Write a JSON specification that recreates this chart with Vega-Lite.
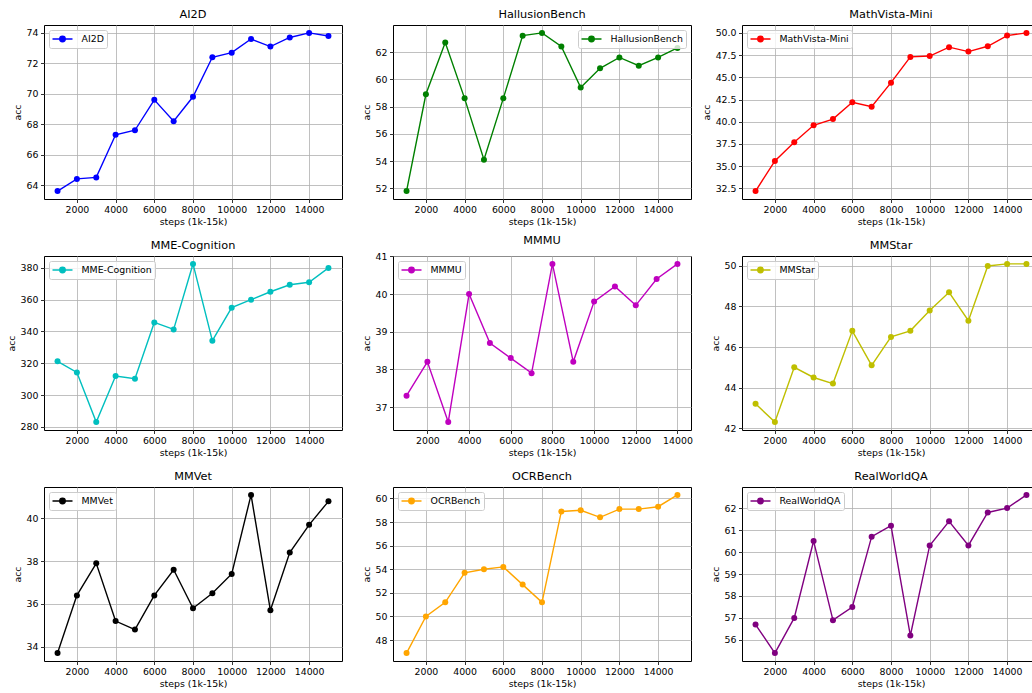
{
  "$schema": "https://vega.github.io/schema/vega-lite/v6.json",
  "padding": {"left": 5, "top": 8, "right": 0, "bottom": 0},
  "background": "white",
  "columns": 3,
  "spacing": {"row": 57, "column": 51},
  "bounds": "flush",
  "datasets": {
    "d": [
      {"bench": "AI2D", "step": 1000, "acc": 63.6}, {"bench": "AI2D", "step": 2000, "acc": 64.4}, {"bench": "AI2D", "step": 3000, "acc": 64.5}, {"bench": "AI2D", "step": 4000, "acc": 67.3}, {"bench": "AI2D", "step": 5000, "acc": 67.6}, {"bench": "AI2D", "step": 6000, "acc": 69.6}, {"bench": "AI2D", "step": 7000, "acc": 68.2}, {"bench": "AI2D", "step": 8000, "acc": 69.8}, {"bench": "AI2D", "step": 9000, "acc": 72.4}, {"bench": "AI2D", "step": 10000, "acc": 72.7}, {"bench": "AI2D", "step": 11000, "acc": 73.6}, {"bench": "AI2D", "step": 12000, "acc": 73.1}, {"bench": "AI2D", "step": 13000, "acc": 73.7}, {"bench": "AI2D", "step": 14000, "acc": 74.0}, {"bench": "AI2D", "step": 15000, "acc": 73.8},
      {"bench": "HallusionBench", "step": 1000, "acc": 51.8}, {"bench": "HallusionBench", "step": 2000, "acc": 58.9}, {"bench": "HallusionBench", "step": 3000, "acc": 62.7}, {"bench": "HallusionBench", "step": 4000, "acc": 58.6}, {"bench": "HallusionBench", "step": 5000, "acc": 54.1}, {"bench": "HallusionBench", "step": 6000, "acc": 58.6}, {"bench": "HallusionBench", "step": 7000, "acc": 63.2}, {"bench": "HallusionBench", "step": 8000, "acc": 63.4}, {"bench": "HallusionBench", "step": 9000, "acc": 62.4}, {"bench": "HallusionBench", "step": 10000, "acc": 59.4}, {"bench": "HallusionBench", "step": 11000, "acc": 60.8}, {"bench": "HallusionBench", "step": 12000, "acc": 61.6}, {"bench": "HallusionBench", "step": 13000, "acc": 61.0}, {"bench": "HallusionBench", "step": 14000, "acc": 61.6}, {"bench": "HallusionBench", "step": 15000, "acc": 62.3},
      {"bench": "MathVista-Mini", "step": 1000, "acc": 32.2}, {"bench": "MathVista-Mini", "step": 2000, "acc": 35.6}, {"bench": "MathVista-Mini", "step": 3000, "acc": 37.7}, {"bench": "MathVista-Mini", "step": 4000, "acc": 39.6}, {"bench": "MathVista-Mini", "step": 5000, "acc": 40.3}, {"bench": "MathVista-Mini", "step": 6000, "acc": 42.2}, {"bench": "MathVista-Mini", "step": 7000, "acc": 41.7}, {"bench": "MathVista-Mini", "step": 8000, "acc": 44.4}, {"bench": "MathVista-Mini", "step": 9000, "acc": 47.3}, {"bench": "MathVista-Mini", "step": 10000, "acc": 47.4}, {"bench": "MathVista-Mini", "step": 11000, "acc": 48.4}, {"bench": "MathVista-Mini", "step": 12000, "acc": 47.9}, {"bench": "MathVista-Mini", "step": 13000, "acc": 48.5}, {"bench": "MathVista-Mini", "step": 14000, "acc": 49.7}, {"bench": "MathVista-Mini", "step": 15000, "acc": 50.0},
      {"bench": "MME-Cognition", "step": 1000, "acc": 321.2}, {"bench": "MME-Cognition", "step": 2000, "acc": 314.2}, {"bench": "MME-Cognition", "step": 3000, "acc": 283.0}, {"bench": "MME-Cognition", "step": 4000, "acc": 312.0}, {"bench": "MME-Cognition", "step": 5000, "acc": 310.3}, {"bench": "MME-Cognition", "step": 6000, "acc": 345.7}, {"bench": "MME-Cognition", "step": 7000, "acc": 341.3}, {"bench": "MME-Cognition", "step": 8000, "acc": 382.5}, {"bench": "MME-Cognition", "step": 9000, "acc": 334.2}, {"bench": "MME-Cognition", "step": 10000, "acc": 355.0}, {"bench": "MME-Cognition", "step": 11000, "acc": 360.0}, {"bench": "MME-Cognition", "step": 12000, "acc": 365.0}, {"bench": "MME-Cognition", "step": 13000, "acc": 369.4}, {"bench": "MME-Cognition", "step": 14000, "acc": 371.0}, {"bench": "MME-Cognition", "step": 15000, "acc": 380.0},
      {"bench": "MMMU", "step": 1000, "acc": 37.3}, {"bench": "MMMU", "step": 2000, "acc": 38.2}, {"bench": "MMMU", "step": 3000, "acc": 36.6}, {"bench": "MMMU", "step": 4000, "acc": 40.0}, {"bench": "MMMU", "step": 5000, "acc": 38.7}, {"bench": "MMMU", "step": 6000, "acc": 38.3}, {"bench": "MMMU", "step": 7000, "acc": 37.9}, {"bench": "MMMU", "step": 8000, "acc": 40.8}, {"bench": "MMMU", "step": 9000, "acc": 38.2}, {"bench": "MMMU", "step": 10000, "acc": 39.8}, {"bench": "MMMU", "step": 11000, "acc": 40.2}, {"bench": "MMMU", "step": 12000, "acc": 39.7}, {"bench": "MMMU", "step": 13000, "acc": 40.4}, {"bench": "MMMU", "step": 14000, "acc": 40.8},
      {"bench": "MMStar", "step": 1000, "acc": 43.2}, {"bench": "MMStar", "step": 2000, "acc": 42.3}, {"bench": "MMStar", "step": 3000, "acc": 45.0}, {"bench": "MMStar", "step": 4000, "acc": 44.5}, {"bench": "MMStar", "step": 5000, "acc": 44.2}, {"bench": "MMStar", "step": 6000, "acc": 46.8}, {"bench": "MMStar", "step": 7000, "acc": 45.1}, {"bench": "MMStar", "step": 8000, "acc": 46.5}, {"bench": "MMStar", "step": 9000, "acc": 46.8}, {"bench": "MMStar", "step": 10000, "acc": 47.8}, {"bench": "MMStar", "step": 11000, "acc": 48.7}, {"bench": "MMStar", "step": 12000, "acc": 47.3}, {"bench": "MMStar", "step": 13000, "acc": 50.0}, {"bench": "MMStar", "step": 14000, "acc": 50.1}, {"bench": "MMStar", "step": 15000, "acc": 50.1},
      {"bench": "MMVet", "step": 1000, "acc": 33.7}, {"bench": "MMVet", "step": 2000, "acc": 36.4}, {"bench": "MMVet", "step": 3000, "acc": 37.9}, {"bench": "MMVet", "step": 4000, "acc": 35.2}, {"bench": "MMVet", "step": 5000, "acc": 34.8}, {"bench": "MMVet", "step": 6000, "acc": 36.4}, {"bench": "MMVet", "step": 7000, "acc": 37.6}, {"bench": "MMVet", "step": 8000, "acc": 35.8}, {"bench": "MMVet", "step": 9000, "acc": 36.5}, {"bench": "MMVet", "step": 10000, "acc": 37.4}, {"bench": "MMVet", "step": 11000, "acc": 41.1}, {"bench": "MMVet", "step": 12000, "acc": 35.7}, {"bench": "MMVet", "step": 13000, "acc": 38.4}, {"bench": "MMVet", "step": 14000, "acc": 39.7}, {"bench": "MMVet", "step": 15000, "acc": 40.8},
      {"bench": "OCRBench", "step": 1000, "acc": 46.9}, {"bench": "OCRBench", "step": 2000, "acc": 50.0}, {"bench": "OCRBench", "step": 3000, "acc": 51.2}, {"bench": "OCRBench", "step": 4000, "acc": 53.7}, {"bench": "OCRBench", "step": 5000, "acc": 54.0}, {"bench": "OCRBench", "step": 6000, "acc": 54.2}, {"bench": "OCRBench", "step": 7000, "acc": 52.7}, {"bench": "OCRBench", "step": 8000, "acc": 51.2}, {"bench": "OCRBench", "step": 9000, "acc": 58.9}, {"bench": "OCRBench", "step": 10000, "acc": 59.0}, {"bench": "OCRBench", "step": 11000, "acc": 58.4}, {"bench": "OCRBench", "step": 12000, "acc": 59.1}, {"bench": "OCRBench", "step": 13000, "acc": 59.1}, {"bench": "OCRBench", "step": 14000, "acc": 59.3}, {"bench": "OCRBench", "step": 15000, "acc": 60.3},
      {"bench": "RealWorldQA", "step": 1000, "acc": 56.7}, {"bench": "RealWorldQA", "step": 2000, "acc": 55.4}, {"bench": "RealWorldQA", "step": 3000, "acc": 57.0}, {"bench": "RealWorldQA", "step": 4000, "acc": 60.5}, {"bench": "RealWorldQA", "step": 5000, "acc": 56.9}, {"bench": "RealWorldQA", "step": 6000, "acc": 57.5}, {"bench": "RealWorldQA", "step": 7000, "acc": 60.7}, {"bench": "RealWorldQA", "step": 8000, "acc": 61.2}, {"bench": "RealWorldQA", "step": 9000, "acc": 56.2}, {"bench": "RealWorldQA", "step": 10000, "acc": 60.3}, {"bench": "RealWorldQA", "step": 11000, "acc": 61.4}, {"bench": "RealWorldQA", "step": 12000, "acc": 60.3}, {"bench": "RealWorldQA", "step": 13000, "acc": 61.8}, {"bench": "RealWorldQA", "step": 14000, "acc": 62.0}, {"bench": "RealWorldQA", "step": 15000, "acc": 62.6}
    ]
  },
  "data": {"name": "d"},
  "concat": [
    {
      "title": "AI2D", "width": 298, "height": 174,
      "transform": [{"filter": "datum.bench === 'AI2D'"}],
      "mark": {"type": "line", "strokeWidth": 1.4, "point": {"filled": true, "size": 36, "opacity": 1}},
      "encoding": {
        "x": {"field": "step", "type": "quantitative", "scale": {"domain": [300, 15700], "nice": false, "zero": false}, "axis": {"values": [2000, 4000, 6000, 8000, 10000, 12000, 14000], "format": "d", "title": "steps (1k-15k)"}},
        "y": {"field": "acc", "type": "quantitative", "scale": {"domain": [63.08, 74.52], "nice": false, "zero": false}, "axis": {"values": [64, 66, 68, 70, 72, 74], "title": "acc"}},
        "color": {"field": "bench", "type": "nominal", "scale": {"domain": ["AI2D"], "range": ["#0000ff"]}, "legend": {"orient": "top-left", "symbolFillColor": "#0000ff", "symbolStrokeColor": "#0000ff"}}
      }
    },
    {
      "title": "HallusionBench", "width": 298, "height": 174,
      "transform": [{"filter": "datum.bench === 'HallusionBench'"}],
      "mark": {"type": "line", "strokeWidth": 1.4, "point": {"filled": true, "size": 36, "opacity": 1}},
      "encoding": {
        "x": {"field": "step", "type": "quantitative", "scale": {"domain": [300, 15700], "nice": false, "zero": false}, "axis": {"values": [2000, 4000, 6000, 8000, 10000, 12000, 14000], "format": "d", "title": "steps (1k-15k)"}},
        "y": {"field": "acc", "type": "quantitative", "scale": {"domain": [51.22, 63.98], "nice": false, "zero": false}, "axis": {"values": [52, 54, 56, 58, 60, 62], "title": "acc"}},
        "color": {"field": "bench", "type": "nominal", "scale": {"domain": ["HallusionBench"], "range": ["#008000"]}, "legend": {"orient": "top-right", "symbolFillColor": "#008000", "symbolStrokeColor": "#008000"}}
      }
    },
    {
      "title": "MathVista-Mini", "width": 298, "height": 174,
      "transform": [{"filter": "datum.bench === 'MathVista-Mini'"}],
      "mark": {"type": "line", "strokeWidth": 1.4, "point": {"filled": true, "size": 36, "opacity": 1}},
      "encoding": {
        "x": {"field": "step", "type": "quantitative", "scale": {"domain": [300, 15700], "nice": false, "zero": false}, "axis": {"values": [2000, 4000, 6000, 8000, 10000, 12000, 14000], "format": "d", "title": "steps (1k-15k)"}},
        "y": {"field": "acc", "type": "quantitative", "scale": {"domain": [31.31, 50.89], "nice": false, "zero": false}, "axis": {"values": [32.5, 35, 37.5, 40, 42.5, 45, 47.5, 50], "format": ".1f", "title": "acc"}},
        "color": {"field": "bench", "type": "nominal", "scale": {"domain": ["MathVista-Mini"], "range": ["#ff0000"]}, "legend": {"orient": "top-left", "symbolFillColor": "#ff0000", "symbolStrokeColor": "#ff0000"}}
      }
    },
    {
      "title": "MME-Cognition", "width": 298, "height": 174,
      "transform": [{"filter": "datum.bench === 'MME-Cognition'"}],
      "mark": {"type": "line", "strokeWidth": 1.4, "point": {"filled": true, "size": 36, "opacity": 1}},
      "encoding": {
        "x": {"field": "step", "type": "quantitative", "scale": {"domain": [300, 15700], "nice": false, "zero": false}, "axis": {"values": [2000, 4000, 6000, 8000, 10000, 12000, 14000], "format": "d", "title": "steps (1k-15k)"}},
        "y": {"field": "acc", "type": "quantitative", "scale": {"domain": [278.0, 387.5], "nice": false, "zero": false}, "axis": {"values": [280, 300, 320, 340, 360, 380], "title": "acc"}},
        "color": {"field": "bench", "type": "nominal", "scale": {"domain": ["MME-Cognition"], "range": ["#00bfbf"]}, "legend": {"orient": "top-left", "symbolFillColor": "#00bfbf", "symbolStrokeColor": "#00bfbf"}}
      }
    },
    {
      "title": "MMMU", "width": 298, "height": 174,
      "transform": [{"filter": "datum.bench === 'MMMU'"}],
      "mark": {"type": "line", "strokeWidth": 1.4, "point": {"filled": true, "size": 36, "opacity": 1}},
      "encoding": {
        "x": {"field": "step", "type": "quantitative", "scale": {"domain": [350, 14650], "nice": false, "zero": false}, "axis": {"values": [2000, 4000, 6000, 8000, 10000, 12000, 14000], "format": "d", "title": "steps (1k-15k)"}},
        "y": {"field": "acc", "type": "quantitative", "scale": {"domain": [36.39, 41.01], "nice": false, "zero": false}, "axis": {"values": [37, 38, 39, 40, 41], "title": "acc"}},
        "color": {"field": "bench", "type": "nominal", "scale": {"domain": ["MMMU"], "range": ["#bf00bf"]}, "legend": {"orient": "top-left", "symbolFillColor": "#bf00bf", "symbolStrokeColor": "#bf00bf"}}
      }
    },
    {
      "title": "MMStar", "width": 298, "height": 174,
      "transform": [{"filter": "datum.bench === 'MMStar'"}],
      "mark": {"type": "line", "strokeWidth": 1.4, "point": {"filled": true, "size": 36, "opacity": 1}},
      "encoding": {
        "x": {"field": "step", "type": "quantitative", "scale": {"domain": [300, 15700], "nice": false, "zero": false}, "axis": {"values": [2000, 4000, 6000, 8000, 10000, 12000, 14000], "format": "d", "title": "steps (1k-15k)"}},
        "y": {"field": "acc", "type": "quantitative", "scale": {"domain": [41.91, 50.49], "nice": false, "zero": false}, "axis": {"values": [42, 44, 46, 48, 50], "title": "acc"}},
        "color": {"field": "bench", "type": "nominal", "scale": {"domain": ["MMStar"], "range": ["#bfbf00"]}, "legend": {"orient": "top-left", "symbolFillColor": "#bfbf00", "symbolStrokeColor": "#bfbf00"}}
      }
    },
    {
      "title": "MMVet", "width": 298, "height": 174,
      "transform": [{"filter": "datum.bench === 'MMVet'"}],
      "mark": {"type": "line", "strokeWidth": 1.4, "point": {"filled": true, "size": 36, "opacity": 1}},
      "encoding": {
        "x": {"field": "step", "type": "quantitative", "scale": {"domain": [300, 15700], "nice": false, "zero": false}, "axis": {"values": [2000, 4000, 6000, 8000, 10000, 12000, 14000], "format": "d", "title": "steps (1k-15k)"}},
        "y": {"field": "acc", "type": "quantitative", "scale": {"domain": [33.33, 41.47], "nice": false, "zero": false}, "axis": {"values": [34, 36, 38, 40], "title": "acc"}},
        "color": {"field": "bench", "type": "nominal", "scale": {"domain": ["MMVet"], "range": ["#000000"]}, "legend": {"orient": "top-left", "symbolFillColor": "#000000", "symbolStrokeColor": "#000000"}}
      }
    },
    {
      "title": "OCRBench", "width": 298, "height": 174,
      "transform": [{"filter": "datum.bench === 'OCRBench'"}],
      "mark": {"type": "line", "strokeWidth": 1.4, "point": {"filled": true, "size": 36, "opacity": 1}},
      "encoding": {
        "x": {"field": "step", "type": "quantitative", "scale": {"domain": [300, 15700], "nice": false, "zero": false}, "axis": {"values": [2000, 4000, 6000, 8000, 10000, 12000, 14000], "format": "d", "title": "steps (1k-15k)"}},
        "y": {"field": "acc", "type": "quantitative", "scale": {"domain": [46.23, 60.97], "nice": false, "zero": false}, "axis": {"values": [48, 50, 52, 54, 56, 58, 60], "title": "acc"}},
        "color": {"field": "bench", "type": "nominal", "scale": {"domain": ["OCRBench"], "range": ["#ffa500"]}, "legend": {"orient": "top-left", "symbolFillColor": "#ffa500", "symbolStrokeColor": "#ffa500"}}
      }
    },
    {
      "title": "RealWorldQA", "width": 298, "height": 174,
      "transform": [{"filter": "datum.bench === 'RealWorldQA'"}],
      "mark": {"type": "line", "strokeWidth": 1.4, "point": {"filled": true, "size": 36, "opacity": 1}},
      "encoding": {
        "x": {"field": "step", "type": "quantitative", "scale": {"domain": [300, 15700], "nice": false, "zero": false}, "axis": {"values": [2000, 4000, 6000, 8000, 10000, 12000, 14000], "format": "d", "title": "steps (1k-15k)"}},
        "y": {"field": "acc", "type": "quantitative", "scale": {"domain": [55.04, 62.96], "nice": false, "zero": false}, "axis": {"values": [56, 57, 58, 59, 60, 61, 62], "title": "acc"}},
        "color": {"field": "bench", "type": "nominal", "scale": {"domain": ["RealWorldQA"], "range": ["#800080"]}, "legend": {"orient": "top-left", "symbolFillColor": "#800080", "symbolStrokeColor": "#800080"}}
      }
    }
  ],
  "resolve": {"scale": {"x": "independent", "y": "independent", "color": "independent"}, "legend": {"color": "independent"}},
  "config": {
    "font": "DejaVu Sans",
    "view": {"stroke": "#000000", "strokeWidth": 1},
    "title": {"font": "DejaVu Sans", "fontSize": 11.3, "fontWeight": "normal", "color": "#000000", "offset": 5, "anchor": "middle"},
    "axis": {
      "labelFont": "DejaVu Sans", "labelFontSize": 9.4, "labelColor": "#000000",
      "titleFont": "DejaVu Sans", "titleFontSize": 9.4, "titleFontWeight": "normal", "titleColor": "#000000",
      "tickColor": "#000000", "tickSize": 3.5, "tickWidth": 0.8, "labelPadding": 2.5,
      "grid": true, "gridColor": "#b0b0b0", "gridWidth": 0.8, "gridOpacity": 1,
      "domain": false, "labelFlush": false, "labelOverlap": false, "titlePadding": 4
    },
    "legend": {
      "title": null, "offset": 5, "padding": 3, "cornerRadius": 2,
      "strokeColor": "#cccccc", "fillColor": "rgba(255,255,255,0.8)",
      "labelFont": "DejaVu Sans", "labelFontSize": 9.4, "labelColor": "#000000",
      "symbolType": "M-2,0L2,0M-0.55,0A0.55,0.55,0,1,1,0.55,0A0.55,0.55,0,1,1,-0.55,0Z",
      "symbolSize": 100, "symbolStrokeWidth": 1.4, "symbolOffset": 4.5, "labelOffset": 13
    }
  }
}
